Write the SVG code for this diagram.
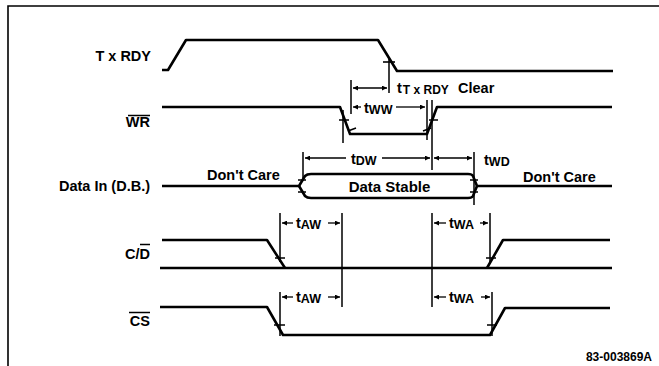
<svg xmlns="http://www.w3.org/2000/svg" width="659" height="366" viewBox="0 0 659 366">
<style>
text{font-family:"Liberation Sans",Arial,sans-serif;font-weight:bold;fill:#000}
.lbl{font-size:14.5px}
.sub{font-size:12.5px}
.wave{fill:none;stroke:#000;stroke-width:2.6;stroke-linejoin:round}
.ref{stroke:#000;stroke-width:1.5;fill:none}
.tick{stroke:#000;stroke-width:1.6;fill:none}
.arr{stroke:#000;stroke-width:1.3;fill:none;marker-end:url(#ah)}
.arr2{stroke:#000;stroke-width:1.3;fill:none;marker-end:url(#ah);marker-start:url(#ah)}
.frame{fill:none;stroke:#000;stroke-width:1.6}
</style>
<defs>
<marker id="ah" viewBox="0 0 10 10" refX="10" refY="5" markerWidth="7" markerHeight="5" markerUnits="userSpaceOnUse" orient="auto-start-reverse">
<path d="M0,0 L10,5 L0,10 z" fill="#000"/>
</marker>
</defs>
<rect width="659" height="366" fill="#fff"/>
<path class="frame" d="M8,366 V6 H659"/>

<g id="txrdy">
<text class="lbl" x="151" y="61" text-anchor="end">T x  RDY</text>
<path class="wave" d="M162,70 H168 L186,40 H378 L397,71 H613"/>
<path class="tick" d="M383,62 H395"/>
</g>

<g id="wr">
<text class="lbl" x="150" y="127" text-anchor="end">WR</text>
<path class="ref" d="M128,115.5 H150"/>
<path class="wave" d="M162,107 H340 L350,134 H427 L437,107 H612"/>
<path class="tick" d="M339,120 H349 M348,131 L356,128 M423,131 L431,128 M429,120 H438"/>
</g>

<g id="data">
<text class="lbl" x="59" y="191">Data In (D.B.)</text>
<text class="lbl" x="207" y="180">Don't Care</text>
<text class="lbl" x="523" y="182">Don't Care</text>
<path class="wave" d="M162,186 H299 L305,176 Q307,174 311,174 H468 Q472,174 473,176 L477,186 H612"/>
<path class="wave" d="M299,186 L305,196 Q307,198 311,198 H468 Q472,198 473,196 L477,186"/>
<text x="389.5" y="192" text-anchor="middle" style="font-size:15px">Data Stable</text>
<path class="tick" d="M298,180 H306 M298,192 H306 M470,180 H478 M470,192 H478"/>
</g>

<g id="cd">
<text class="lbl" x="150" y="259" text-anchor="end">C/D</text>
<path class="ref" d="M140,244.5 H150"/>
<path class="wave" d="M162,240 H267 L285,268"/>
<path class="wave" d="M160,268 H612"/>
<path class="wave" d="M487,268 L503,240 H610"/>
<path class="tick" d="M275,258 H285 M486,258 H496"/>
</g>

<g id="cs">
<text class="lbl" x="150" y="326" text-anchor="end">CS</text>
<path class="ref" d="M129,312.5 H150"/>
<path class="wave" d="M160,307 H267 L283,335 H490 L505,308 H610"/>
<path class="tick" d="M274,325 H285 M487,325 H497"/>
</g>

<g id="timing">
<path class="ref" d="M389,58 V93 M351,80 V114 M343,110 V143 M427,100 V140 M432,100 V170 M303,152 V178 M474,152 V205 M280,213 V262 M280,292 V336 M342,213 V307 M432,213 V307 M490,213 V262 M492,292 V336"/>
<path class="arr2" d="M353,88 H387"/>
<text x="397" y="93"><tspan class="lbl">t</tspan><tspan style="font-size:12px" dx="1" dy="1">T x RDY</tspan><tspan class="lbl" x="458" dy="-1">Clear</tspan></text>
<path class="arr" d="M361,107 H353"/>
<path class="arr" d="M396,107 H425"/>
<text x="364" y="113"><tspan class="lbl">t</tspan><tspan class="sub" dy="1">WW</tspan></text>
<path class="arr" d="M346,158 H305"/>
<path class="arr" d="M382,158 H430"/>
<text x="351" y="164"><tspan class="lbl">t</tspan><tspan class="sub" dy="1">DW</tspan></text>
<path class="arr2" d="M434,158 H472"/>
<text x="484" y="165"><tspan class="lbl">t</tspan><tspan class="sub" dy="1">WD</tspan></text>
<path class="arr" d="M293,223 H282"/>
<path class="arr" d="M328,223 H340"/>
<text x="296" y="228"><tspan class="lbl">t</tspan><tspan class="sub" dy="1">AW</tspan></text>
<path class="arr" d="M446,223 H434"/>
<path class="arr" d="M480,223 H488"/>
<text x="449" y="228"><tspan class="lbl">t</tspan><tspan class="sub" dy="1">WA</tspan></text>
<path class="arr" d="M293,297 H282"/>
<path class="arr" d="M328,297 H340"/>
<text x="296" y="302"><tspan class="lbl">t</tspan><tspan class="sub" dy="1">AW</tspan></text>
<path class="arr" d="M446,297 H434"/>
<path class="arr" d="M481,297 H490"/>
<text x="449" y="302"><tspan class="lbl">t</tspan><tspan class="sub" dy="1">WA</tspan></text>
</g>

<text x="652" y="361" text-anchor="end" style="font-size:12px">83-003869A</text>
</svg>
